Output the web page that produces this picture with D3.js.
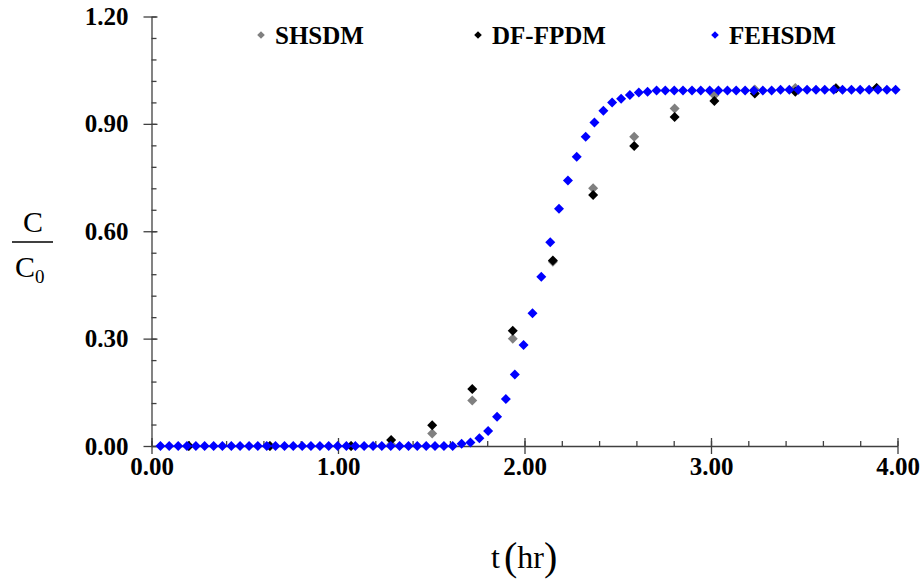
<!DOCTYPE html>
<head>
    <title>C/C0 breakthrough</title>
    <script src="https://cdn.jsdelivr.net/npm/d3@7"></script>
    <style>
      body { margin: 0; background: #fff; }
      text { font-family: "Liberation Serif", "Times New Roman", serif; }
    </style>
</head>
<body>
<div id="container"></div>
<script>

// Données
// FEHSDM : points réguliers
const t_fehsdm = [0.048, 0.095, 0.143, 0.190, 0.238, 0.285, 0.333, 0.380, 0.428, 0.475,
  0.523, 0.570, 0.618, 0.665, 0.713, 0.760, 0.808, 0.855, 0.903, 0.950,
  0.998, 1.045, 1.093, 1.140, 1.188, 1.235, 1.283, 1.330, 1.378, 1.425,
  1.473, 1.520, 1.568, 1.615, 1.663, 1.710, 1.758, 1.805, 1.853, 1.900,
  1.948, 1.995, 2.043, 2.090, 2.138, 2.185, 2.233, 2.280, 2.328, 2.375,
  2.423, 2.470, 2.518, 2.565, 2.613, 2.660, 2.708, 2.755, 2.803, 2.850,
  2.898, 2.945, 2.993, 3.040, 3.088, 3.135, 3.183, 3.230, 3.278, 3.325,
  3.373, 3.420, 3.468, 3.515, 3.563, 3.610, 3.658, 3.705, 3.753, 3.800,
  3.848, 3.895, 3.943, 3.990];
const c_fehsdm = [0, 0, 0, 0, 0, 0, 0, 0, 0, 0,
  0, 0, 0, 0, 0, 0, 0, 0, 0, 0,
  0, 0, 0, 0, 0, 0, 0, 0, 0, 0,
  0, 0, 0, 0, 0.006, 0.010, 0.022, 0.042, 0.082, 0.131,
  0.200, 0.282, 0.371, 0.473, 0.569, 0.663, 0.742, 0.808, 0.864, 0.904,
  0.937, 0.960, 0.970, 0.981, 0.988, 0.990, 0.993, 0.993, 0.993, 0.993,
  0.993, 0.993, 0.993, 0.993, 0.993, 0.993, 0.993, 0.993, 0.993, 0.993,
  0.995, 0.995, 0.995, 0.995, 0.995, 0.995, 0.995, 0.995, 0.995, 0.995,
  0.995, 0.995, 0.995, 0.995];

// SHSDM et DF-FPDM : mêmes temps
const t_exp = [0.200, 0.635, 1.070, 1.285, 1.505, 1.720, 1.937, 2.152, 2.368, 2.588,
  2.805, 3.018, 3.235, 3.452, 3.670, 3.888];
const c_shsdm = [0, 0, 0, 0.004, 0.035, 0.127, 0.300, 0.515, 0.720, 0.864,
  0.943, 0.980, 0.996, 1.000, 1.000, 1.000];
const c_dffpdm = [0, 0, 0, 0.017, 0.058, 0.159, 0.322, 0.518, 0.701, 0.838,
  0.919, 0.964, 0.985, 0.990, 0.999, 1.000];

const series_names = ["SHSDM", "DF-FPDM", "FEHSDM"];
const series_colors = {"SHSDM": "#808080", "DF-FPDM": "#000000", "FEHSDM": "#0000FF"};

const x_ticks = [0, 1, 2, 3, 4];
const x_minor = d3.range(0, 4.001, 0.2);
const y_ticks = [0, 0.3, 0.6, 0.9, 1.2];
const y_minor = d3.range(0, 1.2001, 0.06);

// Dimensions
const W = 922, H = 583;
const svg = d3.select("#container").append("svg")
  .attr("width", W).attr("height", H);

// Échelles
const x = d3.scaleLinear().domain([0, 4]).range([151.5, 897.5]);
const y = d3.scaleLinear().domain([0, 1.2]).range([446, 16.5]);

const axisColor = "#404040";
const fmt = d3.format(".2f");

// Axe X : mineures (vers le haut) puis majeures (traversantes)
svg.append("g")
  .attr("transform", `translate(0,${y(0)})`)
  .call(d3.axisBottom(x).tickValues(x_minor).tickSize(-5).tickFormat(""))
  .call(g => g.select(".domain").remove())
  .selectAll("line").attr("stroke", axisColor).attr("stroke-width", 1.3);

const gx = svg.append("g")
  .attr("transform", `translate(0,${y(0)})`)
  .call(d3.axisBottom(x).tickValues(x_ticks).tickSize(0).tickPadding(11).tickFormat(fmt));
gx.select(".domain").attr("stroke", axisColor).attr("stroke-width", 1.3);
gx.selectAll(".tick line").attr("y1", -8).attr("y2", 8)
  .attr("stroke", axisColor).attr("stroke-width", 1.3);
gx.selectAll(".tick text")
  .attr("font-family", "Liberation Serif").attr("font-weight", "bold")
  .attr("font-size", 25).attr("fill", "#000");

// Axe Y
svg.append("g")
  .attr("transform", `translate(${x(0)},0)`)
  .call(d3.axisLeft(y).tickValues(y_minor).tickSize(-5).tickFormat(""))
  .call(g => g.select(".domain").remove())
  .selectAll("line").attr("stroke", axisColor).attr("stroke-width", 1.3);

const gy = svg.append("g")
  .attr("transform", `translate(${x(0)},0)`)
  .call(d3.axisLeft(y).tickValues(y_ticks).tickSize(0).tickPadding(23).tickFormat(fmt));
gy.select(".domain").attr("stroke", axisColor).attr("stroke-width", 1.3);
gy.selectAll(".tick line").attr("x1", -8).attr("x2", 6)
  .attr("stroke", axisColor).attr("stroke-width", 1.3);
gy.selectAll(".tick text")
  .attr("font-family", "Liberation Serif").attr("font-weight", "bold")
  .attr("font-size", 25).attr("fill", "#000");

// Losange
const diamond = r => `M0,${-r}L${r},0L0,${r}L${-r},0Z`;

// Points (gris, noir, puis bleu par-dessus)
const groupes = [
  {name: "SHSDM", t: t_exp, c: c_shsdm},
  {name: "DF-FPDM", t: t_exp, c: c_dffpdm},
  {name: "FEHSDM", t: t_fehsdm, c: c_fehsdm}
];

groupes.forEach(s => {
  svg.append("g").selectAll("path")
    .data(s.t.map((t, i) => ({t, c: s.c[i]})))
    .enter().append("path")
    .attr("d", diamond(5))
    .attr("transform", d => `translate(${x(d.t)},${y(d.c)})`)
    .attr("fill", series_colors[s.name]);
});

// Légende
const legend_x = [261, 478, 715];
series_names.forEach((n, i) => {
  svg.append("path")
    .attr("d", diamond(3.8))
    .attr("transform", `translate(${legend_x[i]},35)`)
    .attr("fill", series_colors[n]);
  svg.append("text")
    .attr("x", legend_x[i] + 14).attr("y", 44)
    .attr("font-weight", "bold").attr("font-size", 25)
    .attr("fill", "#000")
    .text(n);
});

// Titre axe Y : C / C0
svg.append("text").attr("x", 33).attr("y", 232)
  .attr("text-anchor", "middle").attr("font-size", 30).text("C");
svg.append("line").attr("x1", 12).attr("x2", 53).attr("y1", 242).attr("y2", 242)
  .attr("stroke", "#000").attr("stroke-width", 1.5);
const c0 = svg.append("text").attr("x", 15).attr("y", 277).attr("font-size", 30);
c0.append("tspan").text("C");
c0.append("tspan").attr("font-size", 19).attr("dy", 6).text("0");

// Titre axe X : t (hr)
const tx = svg.append("text").attr("x", 491).attr("y", 568).attr("font-size", 32);
tx.append("tspan").text("t");
tx.append("tspan").attr("dx", 4).attr("font-size", 40).attr("dy", 2).text("(");
tx.append("tspan").attr("font-size", 32).attr("dy", -2).text("hr");
tx.append("tspan").attr("font-size", 40).attr("dy", 2).text(")");

</script>
</body>
